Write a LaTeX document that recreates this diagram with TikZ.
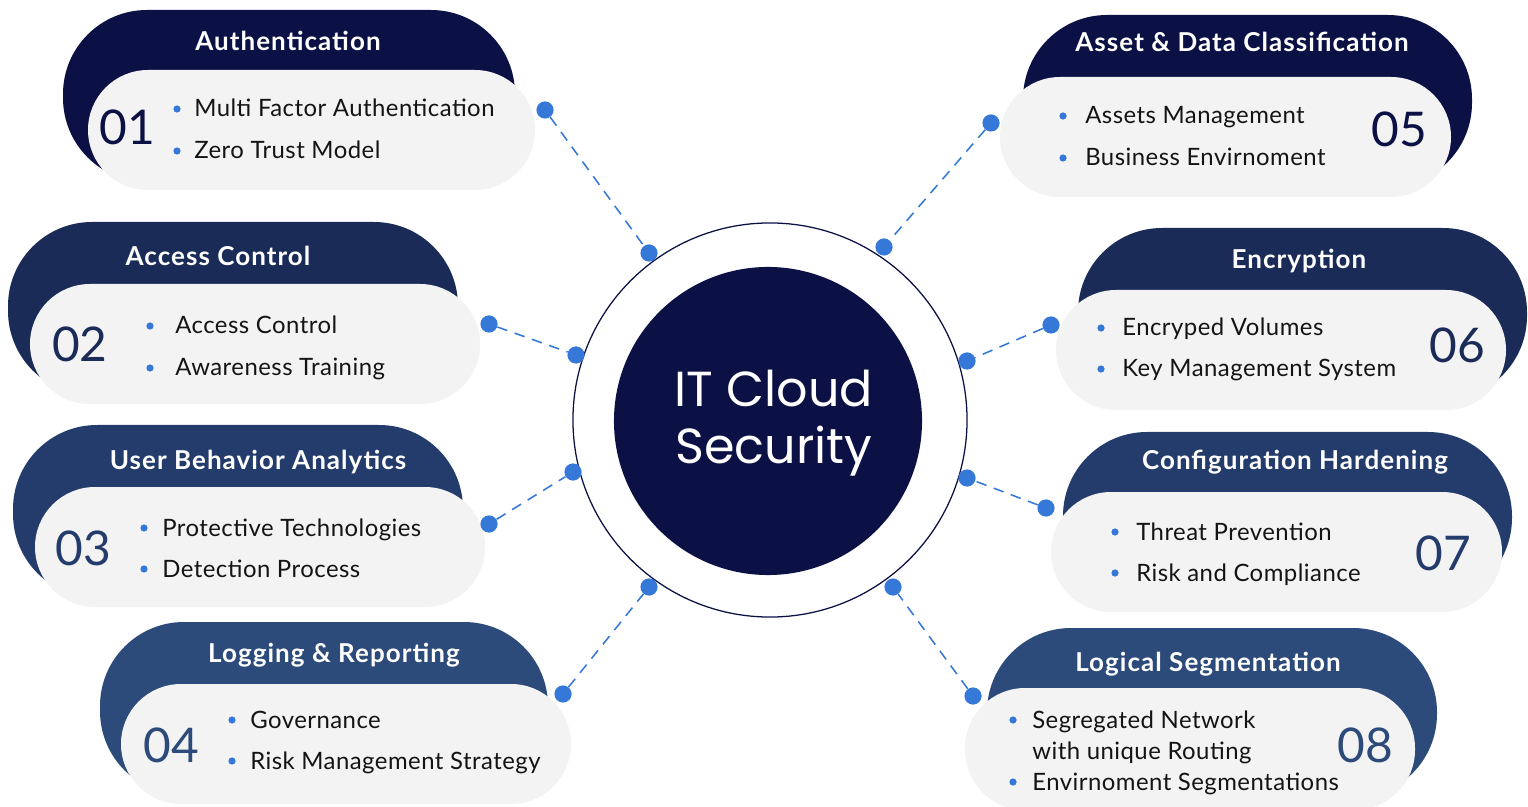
\documentclass[tikz,border=0pt]{standalone}
\usepackage{fontspec}
\setmainfont{Lato}
\newfontfamily\headfont[LetterSpace=4]{Lato}
\newfontfamily\itemfont[LetterSpace=2]{Lato}
\newfontfamily\hubfont{Poppins}
\usepackage{xcolor}
\definecolor{navyA}{HTML}{0C1145}
\definecolor{navyB}{HTML}{1B2B58}
\definecolor{navyC}{HTML}{243C6C}
\definecolor{navyD}{HTML}{2C4A7A}
\definecolor{paleGray}{HTML}{F3F3F3}
\definecolor{linkBlue}{HTML}{3578D8}
\definecolor{inkGray}{HTML}{141414}
\usepackage{tikz}

\tikzset{
  headcap/.style={rounded corners=2.1cm},
  pill/.style={fill=paleGray, rounded corners=1.5cm},
  head/.style={anchor=base, inner sep=0pt, text=white, font=\headfont\fontsize{18.5}{20}\selectfont\bfseries},
  num/.style={anchor=base, inner sep=0pt, font=\fontsize{34}{40}\selectfont},
  item/.style={anchor=base west, inner sep=0pt, text=inkGray, font=\itemfont\fontsize{17}{20}\selectfont},
  dot/.style={circle, fill=linkBlue, inner sep=0pt, minimum size=0.43cm},
  link/.style={draw=linkBlue, dash pattern=on 7.5pt off 5.5pt, line width=1.1pt},
}

\begin{document}
\begin{tikzpicture}[x=0.025cm, y=-0.025cm]
  \useasboundingbox (0,0) rectangle (1528,807);
  % ---- 01 authentication ----
  \fill[navyA, headcap] (63,10) rectangle (515,182);
  \fill[pill] (88,70) rectangle (535,190);
  \node[head] (t1) at (288,51) {Authentication};
  \node[num, text=navyA] (n1) at (127,145) {01};
  \fill[linkBlue] (177,109) circle (0.09cm);
  \fill[linkBlue] (177,151) circle (0.09cm);
  \node[item] (i1a) at (194,117) {Multi Factor Authentication};
  \node[item] (i1b) at (194,159) {Zero Trust Model};
  % ---- 02 access control ----
  \fill[navyB, headcap] (8,222) rectangle (458,395);
  \fill[pill] (30,284) rectangle (480,404);
  \node[head] (t2) at (218,266) {Access Control};
  \node[num, text=navyB] (n2) at (80,362) {02};
  \fill[linkBlue] (150,326) circle (0.09cm);
  \fill[linkBlue] (150,368) circle (0.09cm);
  \node[item] (i2a) at (175,334) {Access Control};
  \node[item] (i2b) at (175,376) {Awareness Training};
  % ---- 03 user behavior ----
  \fill[navyC, headcap] (13,425) rectangle (463,598);
  \fill[pill] (35,487) rectangle (485,607);
  \node[head] (t3) at (258,469) {User Behavior Analytics};
  \node[num, text=navyC] (n3) at (83,565) {03};
  \fill[linkBlue] (144,528) circle (0.09cm);
  \fill[linkBlue] (144,569) circle (0.09cm);
  \node[item] (i3a) at (162,536) {Protective Technologies};
  \node[item] (i3b) at (162,577) {Detection Process};
  % ---- 04 logging ----
  \fill[navyD, headcap] (100,622) rectangle (548,795);
  \fill[pill] (121,684) rectangle (571,804);
  \node[head] (t4) at (334,662) {Logging \& Reporting};
  \node[num, text=navyD] (n4) at (171,762) {04};
  \fill[linkBlue] (232,720) circle (0.09cm);
  \fill[linkBlue] (232,761) circle (0.09cm);
  \node[item] (i4a) at (250,728) {Governance};
  \node[item] (i4b) at (250,769) {Risk Management Strategy};
  % ---- 05 asset classification ----
  \fill[navyA, headcap] (1023,15) rectangle (1472,187);
  \fill[pill] (1000,77) rectangle (1451,197);
  \node[head] (t5) at (1242,52) {Asset \& Data Classification};
  \node[num, text=navyA] (n5) at (1399,147) {05};
  \fill[linkBlue] (1063,116) circle (0.09cm);
  \fill[linkBlue] (1063,158) circle (0.09cm);
  \node[item] (i5a) at (1085,124) {Assets Management};
  \node[item] (i5b) at (1085,166) {Business Envirnoment};
  % ---- 06 encryption ----
  \fill[navyB, headcap] (1078,228) rectangle (1527,400);
  \fill[pill] (1056,290) rectangle (1506,410);
  \node[head] (t6) at (1299,269) {Encryption};
  \node[num, text=navyB] (n6) at (1457,363) {06};
  \fill[linkBlue] (1101,328) circle (0.09cm);
  \fill[linkBlue] (1101,369) circle (0.09cm);
  \node[item] (i6a) at (1122,336) {Encryped Volumes};
  \node[item] (i6b) at (1122,377) {Key Management System};
  % ---- 07 hardening ----
  \fill[navyC, headcap] (1063,432) rectangle (1512,602);
  \fill[pill] (1051,492) rectangle (1502,612);
  \node[head] (t7) at (1295,469) {Configuration Hardening};
  \node[num, text=navyC] (n7) at (1443,570) {07};
  \fill[linkBlue] (1115,532) circle (0.09cm);
  \fill[linkBlue] (1115,573) circle (0.09cm);
  \node[item] (i7a) at (1136,540) {Threat Prevention};
  \node[item] (i7b) at (1136,581) {Risk and Compliance};
  % ---- 08 segmentation ----
  \fill[navyD, headcap] (987,628) rectangle (1437,798);
  \fill[pill] (965,688) rectangle (1415,810);
  \node[head] (t8) at (1208,671) {Logical Segmentation};
  \node[num, text=navyD] (n8) at (1365,762) {08};
  \fill[linkBlue] (1013,720) circle (0.09cm);
  \fill[linkBlue] (1013,782) circle (0.09cm);
  \node[item] (i8a) at (1032,728) {Segregated Network};
  \node[item] (i8b) at (1032,759) {with unique Routing};
  \node[item] (i8c) at (1032,790) {Envirnoment Segmentations};
  % ---- hub ----
  \node[circle, draw=navyA, line width=0.9pt, minimum size=9.85cm] (ring) at (770,420) {};
  \node[circle, fill=navyA, minimum size=7.7cm] (hub) at (768,421) {};
  \node[text=white, align=center, font=\hubfont\fontsize{35}{41}\selectfont] (hubtext) at (774,423) {IT Cloud\\Security};
  % ---- dots and links ----
  \node[dot] (p1) at (545,110) {};  \node[dot] (q1) at (649,253) {};
  \node[dot] (p2) at (489,324) {};  \node[dot] (q2) at (576,355) {};
  \node[dot] (p3) at (489,524) {};  \node[dot] (q3) at (573,472) {};
  \node[dot] (p4) at (563,694) {};  \node[dot] (q4) at (649,587) {};
  \node[dot] (p5) at (991,123) {};  \node[dot] (q5) at (884,247) {};
  \node[dot] (p6) at (1051,325) {}; \node[dot] (q6) at (967,361) {};
  \node[dot] (p7) at (1046,508) {}; \node[dot] (q7) at (967,478) {};
  \node[dot] (p8) at (973,696) {};  \node[dot] (q8) at (893,587) {};
  \foreach \i in {1,...,8}
    \draw[link] (p\i) -- (q\i);
\end{tikzpicture}
\end{document}
